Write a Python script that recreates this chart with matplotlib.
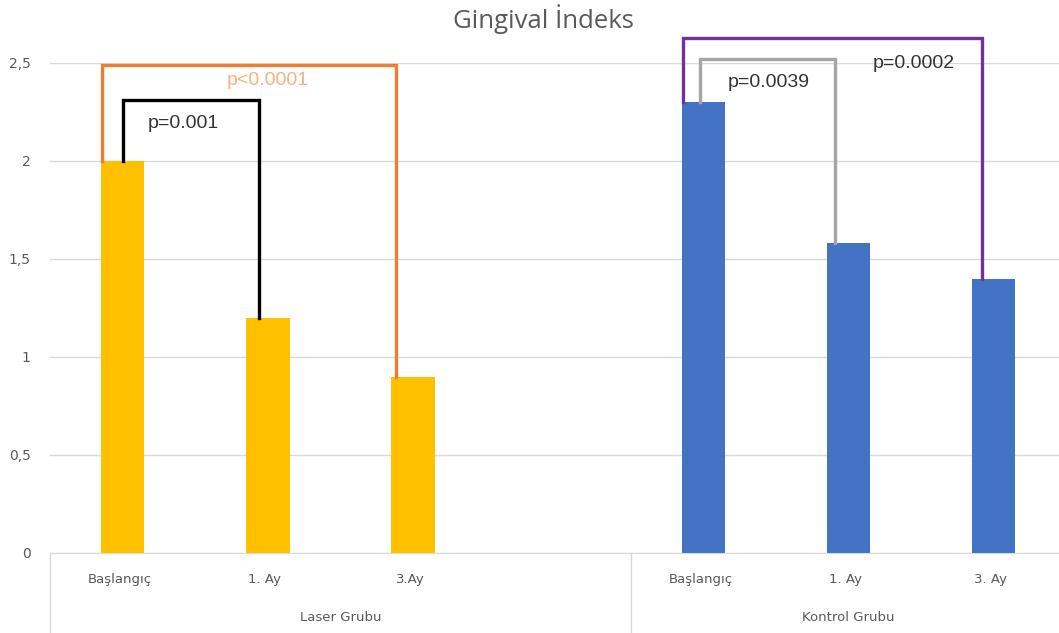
import matplotlib
matplotlib.use("Agg")
import matplotlib.pyplot as plt
import matplotlib.transforms as mtransforms

# gingival index means per time point, two groups
groups = ["Laser Grubu", "Kontrol Grubu"]
laser_labels = ["Başlangıç", "1. Ay", "3.Ay"]
kontrol_labels = ["Başlangıç", "1. Ay", "3. Ay"]
laser_values = [2.0, 1.2, 0.9]
kontrol_values = [2.3, 1.58, 1.4]

y_ticks = [0, 0.5, 1, 1.5, 2, 2.5]
y_tick_labels = ["0", "0,5", "1", "1,5", "2", "2,5"]

# category slots: 3 laser bars, one empty slot, 3 control bars
laser_pos = [0, 1, 2]
kontrol_pos = [4, 5, 6]
group_centers = [1.5, 5.0]
bar_w = 0.30

fig = plt.figure(figsize=(10.59, 6.33), dpi=100)
ax = fig.add_axes([50 / 1059, 80 / 633, 1 - 50 / 1059, 490 / 633])

ax.bar(laser_pos, laser_values, width=bar_w, color="#FFC000", zorder=2)
ax.bar(kontrol_pos, kontrol_values, width=bar_w, color="#4472C4", zorder=2)

ax.set_xlim(-0.5, 6.45)
ax.set_ylim(0, 2.5)
ax.set_yticks(y_ticks)
ax.set_yticklabels(y_tick_labels)
ax.tick_params(axis="y", length=0, pad=14, labelsize=10, labelcolor="#595959")
ax.set_xticks([])
for s in ["left", "right", "top"]:
    ax.spines[s].set_visible(False)
ax.spines["bottom"].set_color("#D9D9D9")
ax.yaxis.grid(True, color="#D9D9D9", lw=1)
ax.set_axisbelow(True)

# category axis: labels and group dividers under the plot
tr = mtransforms.blended_transform_factory(ax.transData, ax.transAxes)
for xd in [-0.5, 3.5]:
    ax.plot([xd, xd], [0, -0.2], transform=tr, color="#D9D9D9", lw=1, clip_on=False)
lab_font = ["Liberation Sans Narrow", "DejaVu Sans"]
for p, t in zip(laser_pos + kontrol_pos, laser_labels + kontrol_labels):
    ax.text(p - 0.02, -0.055, t, transform=tr, ha="center", va="center",
            fontsize=9.5, color="#595959", family=lab_font)
for c, t in zip(group_centers, groups):
    ax.text(c, -0.131, t, transform=tr, ha="center", va="center",
            fontsize=9.5, color="#595959", family=lab_font)

fig.text(543 / 1059, 1 - 19 / 633, "Gingival İndeks", ha="center", va="center",
         fontsize=18.5, color="#595959", family="Open Sans")


def bracket(x0, y0, x1, y1, top, color):
    ax.plot([x0, x0, x1, x1], [y0, top, top, y1], color=color, lw=2.4,
            clip_on=False, zorder=3, solid_joinstyle="miter")


bracket(-0.14, laser_values[0], 1.88, laser_values[2], 2.49, "#ED7D31")
bracket(0.0, laser_values[0], 0.94, laser_values[1], 2.31, "#000000")
bracket(3.86, kontrol_values[0], 5.92, kontrol_values[2], 2.63, "#7030A0")
bracket(3.98, kontrol_values[0], 4.91, kontrol_values[1], 2.52, "#A5A5A5")

p_font = "Liberation Sans"
ax.text(1.0, 2.41, "p<0.0001", ha="center", va="center", fontsize=14,
        color="#F4B183", family=p_font)
ax.text(0.42, 2.19, "p=0.001", ha="center", va="center", fontsize=14,
        color="#333333", family=p_font)
ax.text(4.45, 2.40, "p=0.0039", ha="center", va="center", fontsize=14,
        color="#333333", family=p_font)
ax.text(5.45, 2.50, "p=0.0002", ha="center", va="center", fontsize=14,
        color="#333333", family=p_font)

fig.savefig("out.png", dpi=100)
